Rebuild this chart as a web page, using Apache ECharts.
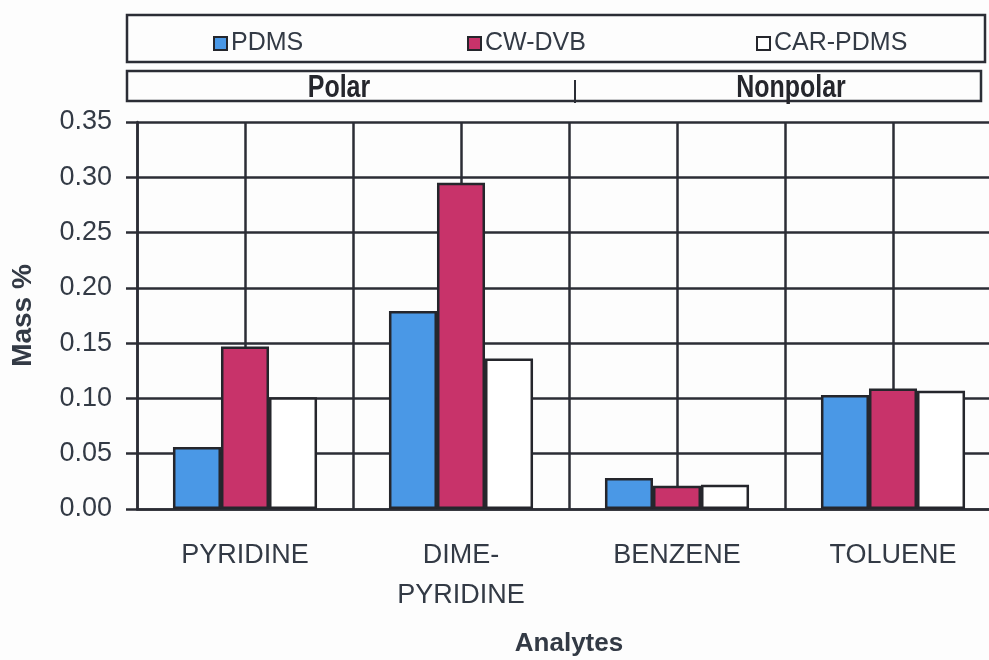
<!DOCTYPE html>
<html>
<head>
<meta charset="utf-8">
<title>Mass % by analyte</title>
<script src="https://cdn.jsdelivr.net/npm/echarts@6/dist/echarts.min.js"></script>
<style>
  html, body { margin: 0; padding: 0; background: #fdfdfd; }
  #myChart { width: 989px; height: 660px; }
</style>
</head>
<body>
<div id="myChart"></div>
<script>
// analytes on the x axis
const categories = ['PYRIDINE', 'DIME-\nPYRIDINE', 'BENZENE', 'TOLUENE']
// mass % per fibre coating
const pdms = [0.056, 0.179, 0.028, 0.103]
const cwDvb = [0.147, 0.295, 0.021, 0.109]
const carPdms = [0.101, 0.136, 0.022, 0.107]
const yTicks = { min: 0, max: 0.35, step: 0.05 }

const lineColor = '#2b2d35'
const textColor = '#333a45'
const font = 'Liberation Sans, Arial, sans-serif'

let myChart = echarts.init(document.getElementById('myChart'))

function bar(name, data, color) {
  return {
    name: name,
    type: 'bar',
    data: data,
    barGap: '0%',
    barCategoryGap: '33.3%',
    itemStyle: {
      color: color,
      borderColor: '#25262c',
      borderWidth: 2.5
    }
  }
}

function legendAt(name, left) {
  return {
    data: [name],
    left: left,
    top: 26,
    icon: 'rect',
    itemWidth: 13,
    itemHeight: 13,
    itemGap: 0,
    textStyle: { fontFamily: font, fontSize: 25, color: textColor, padding: [0, 0, 0, -1] }
  }
}

myChart.setOption({
  backgroundColor: '#fdfdfd',
  animation: false,
  textStyle: { fontFamily: font },
  legend: [
    legendAt('PDMS', 208),
    legendAt('CW-DVB', 462),
    legendAt('CAR-PDMS', 751)
  ],
  grid: {
    left: 137,
    top: 122,
    width: 864,
    height: 387,
    outerBoundsMode: 'none'
  },
  xAxis: [
    {
      type: 'category',
      data: categories,
      name: 'Analytes',
      nameLocation: 'middle',
      nameGap: 122,
      nameTextStyle: { fontSize: 26, fontWeight: 'bold', color: textColor },
      axisLine: { lineStyle: { color: lineColor, width: 2.5 } },
      axisTick: { length: 10, lineStyle: { color: lineColor, width: 1.5 } },
      axisLabel: { fontSize: 27, lineHeight: 40, margin: 27, color: textColor, interval: 0 },
      splitLine: { show: false }
    },
    {
      // half-category grid lines
      type: 'value',
      min: 0,
      max: 8,
      interval: 1,
      position: 'top',
      axisLine: { show: false },
      axisTick: { show: false },
      axisLabel: { show: false },
      splitLine: { show: true, lineStyle: { color: lineColor, width: 2.5 } }
    }
  ],
  yAxis: {
    type: 'value',
    min: yTicks.min,
    max: yTicks.max,
    interval: yTicks.step,
    name: 'Mass %',
    nameLocation: 'middle',
    nameGap: 100,
    nameTextStyle: { fontSize: 28, fontWeight: 'bold', color: textColor },
    axisLine: { show: true, lineStyle: { color: lineColor, width: 2.5 } },
    axisTick: { show: true, length: 11, lineStyle: { color: lineColor, width: 2.5 } },
    axisLabel: {
      fontSize: 27,
      margin: 25,
      color: textColor,
      formatter: v => v.toFixed(2)
    },
    splitLine: { show: true, lineStyle: { color: lineColor, width: 2.5 } }
  },
  graphic: [
    // legend frame
    {
      type: 'rect',
      shape: { x: 127, y: 15, width: 858, height: 47 },
      style: { fill: 'none', stroke: lineColor, lineWidth: 2.5 },
      z: 0
    },
    // polar / nonpolar band
    {
      type: 'rect',
      shape: { x: 127, y: 71, width: 854, height: 30 },
      style: { fill: 'none', stroke: lineColor, lineWidth: 2.5 }
    },
    {
      type: 'line',
      shape: { x1: 575, y1: 80, x2: 575, y2: 103 },
      style: { stroke: lineColor, lineWidth: 2 }
    },
    {
      type: 'text',
      x: 339,
      y: 88,
      scaleX: 0.78,
      style: {
        text: 'Polar',
        font: 'bold 32px Liberation Sans, Arial, sans-serif',
        fill: '#25262c',
        textAlign: 'center',
        textVerticalAlign: 'middle'
      }
    },
    {
      type: 'text',
      x: 791,
      y: 88,
      scaleX: 0.78,
      style: {
        text: 'Nonpolar',
        font: 'bold 32px Liberation Sans, Arial, sans-serif',
        fill: '#25262c',
        textAlign: 'center',
        textVerticalAlign: 'middle'
      }
    }
  ],
  series: [
    bar('PDMS', pdms, '#4a98e6'),
    bar('CW-DVB', cwDvb, '#c8336a'),
    bar('CAR-PDMS', carPdms, '#ffffff')
  ]
})
</script>
</body>
</html>
